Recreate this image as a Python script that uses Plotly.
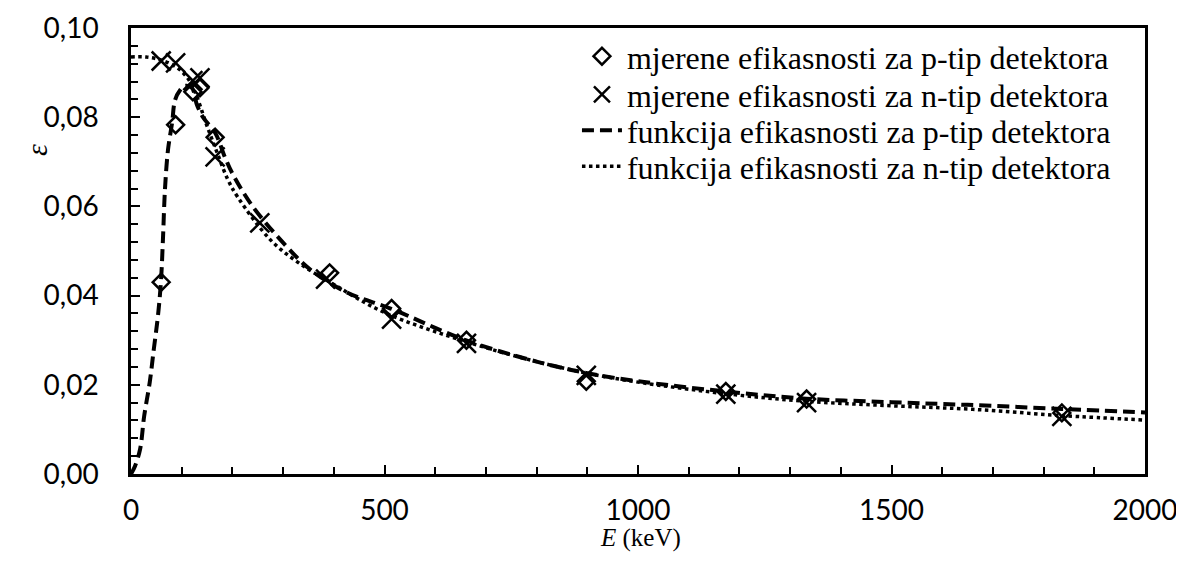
import plotly.graph_objects as go

# measured points
p_E = [59.5, 88, 122, 136, 165.9, 391.7, 514, 661.7, 898, 1173.2, 1332.5, 1836]
p_eff = [0.0430, 0.0783, 0.0857, 0.0866, 0.0755, 0.0451, 0.0371, 0.0300, 0.0208, 0.0185, 0.0168, 0.0137]

n_E = [59.5, 88, 122, 136, 165.9, 254, 383.8, 514, 661.7, 898, 1173.2, 1332.5, 1836]
n_eff = [0.0926, 0.0922, 0.0882, 0.0888, 0.0711, 0.0563, 0.0437, 0.0347, 0.0293, 0.0221, 0.0179, 0.0160, 0.0129]

# efficiency functions
fp_E = [0, 8, 18, 26, 37, 45, 53, 59, 63, 67, 73, 81, 87, 97, 106, 120, 130, 142, 166, 185,
        199, 240, 307, 353, 426, 512, 660, 800, 900, 1000, 1173, 1332, 1500, 1650, 1836, 2000]
fp_eff = [0.0, 0.0018, 0.0056, 0.013, 0.0206, 0.028, 0.0353, 0.043, 0.0526, 0.0638, 0.0727,
          0.0787, 0.0839, 0.0861, 0.087, 0.0866, 0.0828, 0.080, 0.0765, 0.0711,
          0.0676, 0.060, 0.051, 0.0459, 0.0407, 0.0371, 0.0300, 0.0252, 0.0226, 0.0208,
          0.0185, 0.0169, 0.0161, 0.0155, 0.0146, 0.0138]

fn_E = [0, 30, 60, 90, 110, 125, 150, 170, 191, 211, 275, 330, 400, 500, 660, 800, 900,
        1000, 1173, 1332, 1500, 1660, 1836, 2000]
fn_eff = [0.0935, 0.0935, 0.0928, 0.0912, 0.089, 0.086, 0.078, 0.072, 0.066, 0.062, 0.0525,
          0.0474, 0.0425, 0.0362, 0.0297, 0.0252, 0.0226, 0.0206, 0.0180, 0.0163, 0.0153,
          0.0145, 0.0131, 0.0121]

names = ["mjerene efikasnosti za p-tip detektora",
         "mjerene efikasnosti za n-tip detektora",
         "funkcija efikasnosti za p-tip detektora",
         "funkcija efikasnosti za n-tip detektora"]

SERIF = "Liberation Serif, Times New Roman, serif"
TICKFONT = dict(family="Lato, sans-serif", size=28, color="black")

fig = go.Figure()
fig.add_trace(go.Scatter(x=p_E, y=p_eff, mode="markers", name=names[0], legend="legend",
                         marker=dict(symbol="diamond-open", size=13, color="black",
                                     line=dict(width=2.5, color="black"))))
fig.add_trace(go.Scatter(x=n_E, y=n_eff, mode="markers", name=names[1], legend="legend2",
                         marker=dict(symbol="x-thin", size=19, color="black",
                                     line=dict(width=2.5, color="black"))))
fig.add_trace(go.Scatter(x=fp_E, y=fp_eff, mode="lines", line_shape="spline",
                         name=names[2], legend="legend3",
                         line=dict(color="black", width=4, dash="12px,6px")))
fig.add_trace(go.Scatter(x=fn_E, y=fn_eff, mode="lines", line_shape="spline",
                         name=names[3], legend="legend4",
                         line=dict(color="black", width=3.5, dash="dot")))

axis_common = dict(showline=True, linecolor="black", linewidth=2.5, mirror=True,
                   showgrid=False, zeroline=False, ticks="inside", tickcolor="black",
                   tickwidth=1.5, ticklen=9, automargin=False, tickfont=TICKFONT,
                   ticklabeloverflow="allow")

fig.update_xaxes(range=[0, 2000], dtick=500, tick0=0, ticklabelstandoff=10,
                 minor=dict(dtick=100, ticks="inside", ticklen=7, tickcolor="black",
                            tickwidth=1.5, showgrid=False),
                 **axis_common)
fig.update_yaxes(range=[0, 0.1], dtick=0.02, tick0=0, tickformat=".2f",
                 ticklabelstandoff=24,
                 minor=dict(dtick=0.004, ticks="inside", ticklen=7, tickcolor="black",
                            tickwidth=1.5, showgrid=False),
                 **axis_common)

# axis titles as annotations, placed like in the reference
fig.add_annotation(text="<i>E</i> (keV)", xref="paper", yref="paper", x=0.502, y=-0.1771,
                   xanchor="center", yanchor="bottom", showarrow=False, borderpad=0,
                   font=dict(family=SERIF, size=25, color="black"))
fig.add_annotation(text="<i>ε</i>", xref="paper", yref="paper", x=-0.0927, y=0.7265,
                   xanchor="center", yanchor="middle", textangle=-90, showarrow=False,
                   font=dict(family=SERIF, size=30, color="black"))

leg_common = dict(x=0.4398, xanchor="left", yanchor="top", bgcolor="rgba(0,0,0,0)",
                  itemwidth=40, font=dict(family=SERIF, size=32, color="black"))

# the page adds an 8px body margin, so the figure is 16px smaller than the window
fig.update_layout(
    width=1168, height=546,
    margin=dict(l=123, r=31, t=20, b=80),
    paper_bgcolor="white", plot_bgcolor="white",
    separators=",.",
    showlegend=True,
    legend=dict(y=0.998, **leg_common),
    legend2=dict(y=0.9126, **leg_common),
    legend3=dict(y=0.8318, **leg_common),
    legend4=dict(y=0.7511, **leg_common),
)

fig.write_html("out.html")
